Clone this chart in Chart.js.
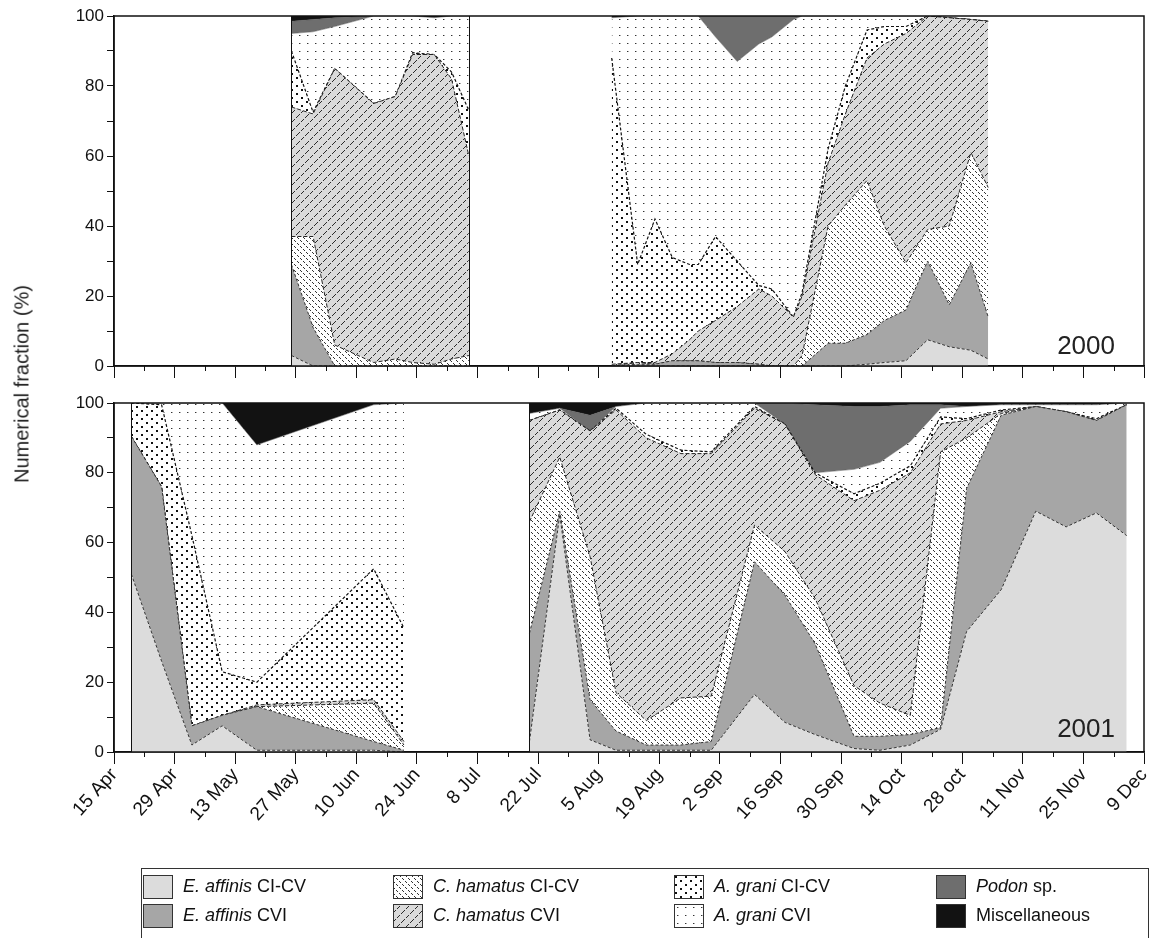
<!DOCTYPE html>
<html>
<head>
<meta charset="utf-8">
<script src="https://cdn.jsdelivr.net/npm/chart.js@4.4.1/dist/chart.umd.min.js"></script>
<style>
  html, body { margin: 0; padding: 0; background: #fff; }
  body { width: 1152px; height: 938px; position: relative; overflow: hidden;
         font-family: 'Liberation Sans', Arial, sans-serif; color: #111; }
  #c2000 { position: absolute; left: 0; top: 0; }
  #c2001 { position: absolute; left: 0; top: 385px; }
  #ytitle { position: absolute; left: 22px; top: 384px; white-space: nowrap; font-size: 20px;
            transform: translate(-50%, -50%) rotate(-90deg); color: #222; }
  #legend { position: absolute; left: 141px; top: 868px; width: 1008px; height: 72px;
            border: 1px solid #333; box-sizing: border-box;
            display: grid; grid-template-rows: 29px 29px; grid-auto-flow: column;
            grid-template-columns: 250px 281px 262px 1fr; padding: 3px 0 0 1px; }
  .item { display: flex; align-items: center; font-size: 18px; }
  .item canvas { margin-right: 10px; }
</style>
</head>
<body>
<canvas id="c2000" width="1152" height="385"></canvas>
<canvas id="c2001" width="1152" height="480"></canvas>
<div id="ytitle">Numerical fraction (%)</div>
<div id="legend"></div>
<script>
// x axis: days after 15 Apr, labelled every 14 days
const tickLabels = ['15 Apr', '29 Apr', '13 May', '27 May', '10 Jun', '24 Jun', '8 Jul', '22 Jul',
  '5 Aug', '19 Aug', '2 Sep', '16 Sep', '30 Sep', '14 Oct', '28 oct', '11 Nov', '25 Nov', '9 Dec'];

const legendItalic = ['E. affinis', 'E. affinis', 'C. hamatus', 'C. hamatus', 'A. grani', 'A. grani', 'Podon', ''];
const legendRest = ['CI-CV', 'CVI', 'CI-CV', 'CVI', 'CI-CV', 'CVI', 'sp.', 'Miscellaneous'];

// 2000 sampling days (null values = no sampling)
const days2000 = [41, 46, 51, 60, 65, 69, 74, 78, 82, 98,
  115, 121, 125, 129, 133, 135, 139, 144, 149, 152, 157, 159, 165, 169, 174, 178, 183, 188, 193, 198, 202];
const eaffCICV2000 = [3, 0, 0, 0, 0, 0, 0, 0, 0, null,
  0, 0, 0, 0, 0, 0, 0, 0, 0, 0, 0, 0, 0, 0, 0.5, 1, 1.5, 7.5, 5.5, 4.5, 2];
const eaffCVI2000 = [26, 11, 0, 0, 0, 0, 0, 0, 0, null,
  0, 0.5, 0.5, 1.5, 1.5, 1.5, 1, 1, 0.5, 0, 0, 0, 6.5, 6.5, 8.5, 12, 14.5, 22.5, 12, 25, 12];
const chamCICV2000 = [8, 26, 6, 1, 2, 1, 0.5, 2, 3, null,
  0, 0.5, 0, 0, 0, 0, 0, 0, 0, 0, 0, 3, 33.5, 39.5, 44, 27, 13.5, 9, 22.5, 31.5, 37];
const chamCVI2000 = [37, 35, 79, 74, 75, 88, 88.5, 80, 57, null,
  0.5, 0, 0.5, 2, 6, 8.5, 12, 16, 21.5, 20, 14, 17, 18, 26, 35, 52, 65.5, 61, 59.5, 38, 47.5];
const agraniCICV2000 = [16, 0.5, 0, 0, 0, 0.5, 0, 2, 13, null,
  87.5, 28, 41, 27.5, 21.5, 19, 24, 13, 1, 2, 0, 1, 4, 8, 8, 5, 2, 0, 0, 0, 0];
const agraniCVI2000 = [5, 23, 12, 25, 23, 10.5, 10.5, 16, 27, null,
  11.5, 71, 58, 69, 71, 71, 57, 57, 69, 72, 85, 79, 38, 20, 4, 3, 3, 0, 0, 0, 0];
const podon2000 = [3.5, 3.5, 2.5, 0, 0, 0, 0, 0, 0, null,
  0, 0, 0, 0, 0, 0, 6, 13, 8, 6, 1, 0, 0, 0, 0, 0, 0, 0, 0, 0, 0];
const misc2000 = [1.5, 1, 0.5, 0, 0, 0, 0.5, 0, 0, null,
  0.5, 0, 0, 0, 0, 0, 0, 0, 0, 0, 0, 0, 0, 0, 0, 0, 0, 0, 0, 0, 0];

// 2001
const days2001 = [4, 11, 18, 25, 33, 60, 67, 80,
  96, 103, 110, 116, 123, 131, 138, 148, 155, 162, 171, 177, 184, 191, 197, 205, 213, 220, 227, 234];
const eaffCICV2001 = [51, 26, 2, 7.5, 0.5, 0.5, 0, null,
  3, 68, 3.5, 0.5, 0.5, 0.5, 0.5, 16.5, 8.5, 5, 1, 0.5, 2, 6.5, 34.5, 46.5, 69, 64.5, 68.5, 62];
const eaffCVI2001 = [39.5, 50, 5.5, 3, 12.5, 2.5, 0.5, null,
  31, 1, 11.5, 5.5, 1.5, 1.5, 2.5, 38, 36.5, 26, 3.5, 4, 3, 0.5, 41, 50, 30, 33, 26.5, 37.5];
const chamCICV2001 = [0, 0, 0, 0, 0, 11, 1.5, null,
  32, 15.5, 41, 11, 7, 13.5, 13, 10.5, 12.5, 13, 14.5, 9.5, 5.5, 79, 14.5, 0.5, 0, 0, 0, 0];
const chamCVI2001 = [0, 0, 0, 0, 0.5, 1, 1, null,
  29, 13.5, 36, 81, 81, 70, 69.5, 33.5, 36.5, 35.5, 53, 61, 69.5, 8, 5, 0.5, 0, 0, 0, 0];
const agraniCICV2001 = [9.5, 23.5, 54.5, 12.5, 6.5, 37.5, 32.5, null,
  0, 0, 0, 0.5, 1, 1, 0.5, 0.5, 0, 0.5, 2, 2, 2, 2, 0.5, 0.5, 0, 0, 0.5, 0];
const agraniCVI2001 = [0, 0.5, 38, 77, 68, 47, 64.5, null,
  2, 0.5, 0, 0.5, 9, 13.5, 14, 1, 0, 0, 7, 6, 7, 2.5, 3.5, 1.5, 0.5, 2, 4, 0.5];
const podon2001 = [0, 0, 0, 0, 0, 0, 0, null,
  0, 0, 4.5, 0, 0, 0, 0, 0, 6, 19.5, 18, 16, 10.5, 1, 0, 0, 0, 0, 0, 0];
const misc2001 = [0, 0, 0, 0, 12, 0.5, 0, null,
  3, 1.5, 3.5, 1, 0, 0, 0, 0, 0, 0.5, 1, 1, 0.5, 0.5, 1, 0.5, 0.5, 0.5, 0.5, 0];

// fill tiles
function tile(w, h, draw) {
  const c = document.createElement('canvas');
  c.width = w; c.height = h;
  draw(c.getContext('2d'));
  return c;
}
const tiles = {
  hatchDots: tile(6, 6, g => {
    g.fillStyle = '#fff'; g.fillRect(0, 0, 6, 6);
    g.fillStyle = '#333';
    for (let i = 0; i < 6; i++) if (i % 3 !== 2) g.fillRect(i, i, 1, 1);
  }),
  hatchLines: tile(9, 9, g => {
    g.fillStyle = '#dadada'; g.fillRect(0, 0, 9, 9);
    g.fillStyle = '#2a2a2a';
    for (let i = 0; i < 9; i++) if (i % 4 !== 3) g.fillRect(i, 8 - i, 1, 1);
  }),
  boldDots: tile(10, 8, g => {
    g.fillStyle = '#fff'; g.fillRect(0, 0, 10, 8);
    g.fillStyle = '#111';
    g.fillRect(1, 1, 2, 2); g.fillRect(6, 5, 2, 2);
  }),
  smallDots: tile(8, 8, g => {
    g.fillStyle = '#fff'; g.fillRect(0, 0, 8, 8);
    g.fillStyle = '#333'; g.fillRect(3, 3, 1, 1);
    g.fillStyle = '#aaa'; g.fillRect(4, 3, 1, 1);
  })
};

function fillsFor(ctx) {
  return [
    '#dcdcdc',
    '#a6a6a6',
    ctx.createPattern(tiles.hatchDots, 'repeat'),
    ctx.createPattern(tiles.hatchLines, 'repeat'),
    ctx.createPattern(tiles.boldDots, 'repeat'),
    ctx.createPattern(tiles.smallDots, 'repeat'),
    '#6e6e6e',
    '#121212'
  ];
}
const borders = [
  { color: '#333', width: 1, dash: [3, 2] },
  { color: '#333', width: 1, dash: [3, 2] },
  { color: '#222', width: 1, dash: [4, 2] },
  { color: '#222', width: 1, dash: [4, 2] },
  { color: '#111', width: 1.2, dash: [3, 2] },
  { color: '#555', width: 0.5, dash: [] },
  { color: '#555', width: 0.5, dash: [] },
  { color: '#111', width: 0.5, dash: [] }
];

function buildDatasets(ctx, days, series) {
  const fills = fillsFor(ctx);
  return series.map((vals, i) => ({
    label: (legendItalic[i] + ' ' + legendRest[i]).trim(),
    data: vals.map((v, j) => ({ x: days[j], y: v })),
    fill: i === 0 ? 'origin' : '-1',
    backgroundColor: fills[i],
    borderColor: borders[i].color,
    borderWidth: borders[i].width,
    borderDash: borders[i].dash,
    pointRadius: 0,
    tension: 0
  }));
}

// frame, minor ticks, segment edges and year label
const panelExtras = {
  id: 'panelExtras',
  afterDraw(chart, args, opts) {
    const { ctx, chartArea: a, scales: { x, y } } = chart;
    ctx.save();
    ctx.strokeStyle = '#111';
    ctx.lineWidth = 1;
    opts.edges.forEach(d => {
      const px = Math.round(x.getPixelForValue(d)) + 0.5;
      ctx.beginPath();
      ctx.moveTo(px, y.getPixelForValue(0));
      ctx.lineTo(px, y.getPixelForValue(100));
      ctx.stroke();
    });
    for (let d = 7; d < 238; d += 14) {
      const px = Math.round(x.getPixelForValue(d)) + 0.5;
      ctx.beginPath();
      ctx.moveTo(px, a.bottom);
      ctx.lineTo(px, a.bottom + 5);
      ctx.stroke();
    }
    ctx.lineWidth = 1.5;
    ctx.strokeRect(a.left, a.top, a.right - a.left, a.bottom - a.top);
    ctx.fillStyle = '#222';
    ctx.font = "26px 'Liberation Sans', Arial, sans-serif";
    ctx.textAlign = 'right';
    ctx.textBaseline = 'alphabetic';
    ctx.fillText(opts.year, a.right - 29, a.bottom - opts.yearLift);
    ctx.restore();
  }
};

const tickFont = { family: "'Liberation Sans', Arial, sans-serif", size: 17 };
const xTickFont = { family: "'Liberation Sans', Arial, sans-serif", size: 19 };

function makeChart(id, days, series, showLabels, xHeight, padTop, extras) {
  const ctx = document.getElementById(id).getContext('2d');
  return new Chart(ctx, {
    type: 'line',
    data: { datasets: buildDatasets(ctx, days, series) },
    options: {
      responsive: false,
      animation: false,
      devicePixelRatio: 1,
      layout: { padding: { top: padTop, right: 8, left: 0, bottom: 0 } },
      plugins: { legend: { display: false }, tooltip: { enabled: false }, panelExtras: extras },
      scales: {
        x: {
          type: 'linear', min: 0, max: 238,
          afterBuildTicks: s => { s.ticks = tickLabels.map((_, i) => ({ value: i * 14 })); },
          ticks: {
            display: showLabels, autoSkip: false, minRotation: 48, maxRotation: 48,
            padding: 0, color: '#111', font: xTickFont,
            callback: v => tickLabels[Math.round(v / 14)]
          },
          grid: { drawOnChartArea: false, tickLength: 12, color: '#111', lineWidth: 1 },
          border: { color: '#111', width: 1.5 },
          afterFit: s => { s.height = xHeight; s.paddingRight = 0; s.paddingLeft = 0; }
        },
        y: {
          stacked: true, min: 0, max: 100,
          ticks: {
            stepSize: 10, autoSkip: false, padding: 3, color: '#111', font: tickFont,
            callback: v => (v % 20 === 0 ? v : '')
          },
          grid: { drawOnChartArea: false, tickLength: 7, color: '#111', lineWidth: 1 },
          border: { color: '#111', width: 1.5 },
          afterFit: s => { s.width = 114; }
        }
      }
    },
    plugins: [panelExtras]
  });
}

makeChart('c2000', days2000,
  [eaffCICV2000, eaffCVI2000, chamCICV2000, chamCVI2000, agraniCICV2000, agraniCVI2000, podon2000, misc2000],
  false, 19, 16, { year: '2000', yearLift: 12, edges: [days2000[0], days2000[8]] });

makeChart('c2001', days2001,
  [eaffCICV2001, eaffCVI2001, chamCICV2001, chamCVI2001, agraniCICV2001, agraniCVI2001, podon2001, misc2001],
  true, 113, 18, { year: '2001', yearLift: 15, edges: [days2001[0], days2001[8]] });

// legend with the same fills
const legendEl = document.getElementById('legend');
legendRest.forEach((rest, i) => {
  const item = document.createElement('div');
  item.className = 'item';
  const sw = document.createElement('canvas');
  sw.width = 30; sw.height = 24;
  const g = sw.getContext('2d');
  g.fillStyle = fillsFor(g)[i];
  g.fillRect(0, 0, 30, 24);
  g.strokeStyle = '#333';
  g.lineWidth = 1;
  g.strokeRect(0.5, 0.5, 29, 23);
  item.appendChild(sw);
  const label = document.createElement('span');
  if (legendItalic[i]) {
    const it = document.createElement('i');
    it.textContent = legendItalic[i];
    label.appendChild(it);
    label.appendChild(document.createTextNode(' ' + rest));
  } else {
    label.textContent = rest;
  }
  item.appendChild(label);
  legendEl.appendChild(item);
});
</script>
</body>
</html>
